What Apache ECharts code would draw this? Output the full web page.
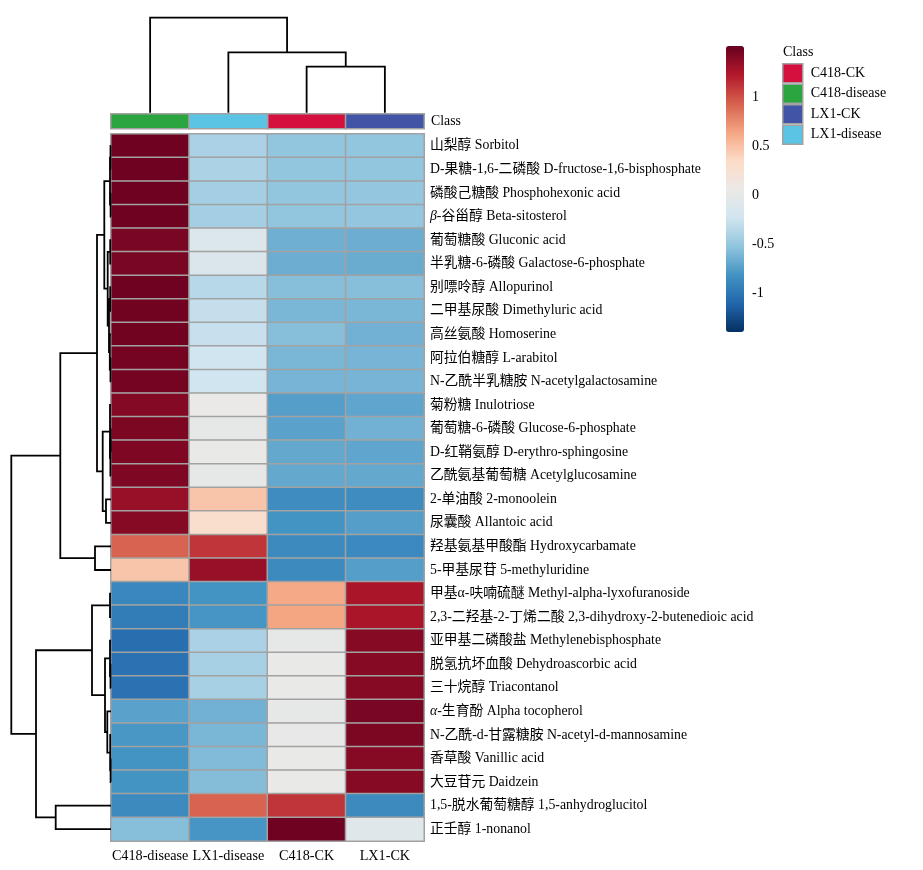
<!DOCTYPE html>
<html><head><meta charset="utf-8">
<script src="https://cdn.jsdelivr.net/npm/echarts@6/dist/echarts.min.js"></script>
<style>html,body{margin:0;padding:0;background:#fff}#c{width:923px;height:870px}</style>
</head><body><div id="c"></div>
<script>
// ---------- data ----------
const colLabels = ['C418-disease', 'LX1-disease', 'C418-CK', 'LX1-CK'];
const rowLabels = [
  '山梨醇 Sorbitol',
  'D-果糖-1,6-二磷酸 D-fructose-1,6-bisphosphate',
  '磷酸己糖酸 Phosphohexonic acid',
  'β-谷甾醇 Beta-sitosterol',
  '葡萄糖酸 Gluconic acid',
  '半乳糖-6-磷酸 Galactose-6-phosphate',
  '别嘌呤醇 Allopurinol',
  '二甲基尿酸 Dimethyluric acid',
  '高丝氨酸 Homoserine',
  '阿拉伯糖醇 L-arabitol',
  'N-乙酰半乳糖胺 N-acetylgalactosamine',
  '菊粉糖 Inulotriose',
  '葡萄糖-6-磷酸 Glucose-6-phosphate',
  'D-红鞘氨醇 D-erythro-sphingosine',
  '乙酰氨基葡萄糖 Acetylglucosamine',
  '2-单油酸 2-monoolein',
  '尿囊酸 Allantoic acid',
  '羟基氨基甲酸酯 Hydroxycarbamate',
  '5-甲基尿苷 5-methyluridine',
  '甲基α-呋喃硫醚 Methyl-alpha-lyxofuranoside',
  '2,3-二羟基-2-丁烯二酸 2,3-dihydroxy-2-butenedioic acid',
  '亚甲基二磷酸盐 Methylenebisphosphate',
  '脱氢抗坏血酸 Dehydroascorbic acid',
  '三十烷醇 Triacontanol',
  'α-生育酚 Alpha tocopherol',
  'N-乙酰-d-甘露糖胺 N-acetyl-d-mannosamine',
  '香草酸 Vanillic acid',
  '大豆苷元 Daidzein',
  '1,5-脱水葡萄糖醇 1,5-anhydroglucitol',
  '正壬醇 1-nonanol'
];
// row-scaled values, one array per column (rows in display order)
const c418Disease = [1.50,1.50,1.50,1.50,1.46,1.46,1.50,1.49,1.49,1.48,1.48,1.42,1.45,1.44,1.44,1.34,1.41,0.93,0.48,-0.89,-0.96,-1.05,-1.03,-1.03,-0.73,-0.79,-0.81,-0.81,-0.87,-0.56];
const lx1Disease  = [-0.41,-0.40,-0.44,-0.44,-0.11,-0.12,-0.35,-0.29,-0.27,-0.23,-0.23,0.05,0.00,0.03,0.00,0.48,0.30,1.12,1.34,-0.81,-0.80,-0.41,-0.42,-0.42,-0.64,-0.61,-0.58,-0.57,0.93,-0.80];
const c418CK      = [-0.52,-0.52,-0.52,-0.52,-0.65,-0.66,-0.56,-0.61,-0.56,-0.61,-0.62,-0.75,-0.73,-0.69,-0.69,-0.85,-0.81,-0.87,-0.87,0.63,0.65,0.00,0.03,0.03,0.00,0.02,0.03,0.03,1.12,1.50];
const lx1CK       = [-0.52,-0.52,-0.51,-0.51,-0.66,-0.67,-0.56,-0.61,-0.64,-0.62,-0.62,-0.71,-0.64,-0.71,-0.69,-0.85,-0.75,-0.88,-0.75,1.27,1.27,1.41,1.41,1.41,1.46,1.45,1.41,1.41,-0.87,-0.08];
const columnValues = [c418Disease, lx1Disease, c418CK, lx1CK];

const classNames = ['C418-CK', 'C418-disease', 'LX1-CK', 'LX1-disease'];
const classColors = ['#D5103E', '#2BA540', '#4254A5', '#5BC4E4'];
const colorTicks = [-1, -0.5, 0, 0.5, 1];
const colorMin = -1.40, colorMax = 1.53;
const palette = ['#053061','#2166AC','#4393C3','#92C5DE','#D1E5F0','#ECE9E6','#FDDBC7','#F4A582','#D6604D','#B2182B','#67001F'];

// dendrograms: [childA, childB, height]; negative = leaf (1-based display order), positive = earlier merge
const rowMerges = [
  [-1,-2,0.05],[-3,-4,0.04],[1,2,0.10],[-5,-6,0.08],[-7,-8,0.08],[-10,-11,0.05],
  [-9,6,0.12],[5,7,0.20],[4,8,0.33],[3,9,0.67],[-13,-14,0.03],[11,-15,0.06],
  [-12,12,0.10],[-16,-17,0.50],[13,14,0.83],[10,15,1.40],[-18,-19,1.60],[16,17,5.07],
  [-20,-21,0.10],[-23,-24,0.05],[-22,20,0.10],[-27,-28,0.04],[-26,22,0.08],[-25,23,0.37],
  [21,24,0.60],[19,25,1.90],[-29,-30,5.53],[26,27,7.50],[18,28,9.97]
];
const colMerges = [[-3,-4,4.6],[-2,1,6.04],[-1,2,9.5]];

// ---------- build ----------
function dendro(merges) {
  const pos = [], ht = [], segs = [];
  merges.forEach((m, i) => {
    const pa = m[0] < 0 ? -m[0] - 1 : pos[m[0] - 1];
    const ha = m[0] < 0 ? 0 : ht[m[0] - 1];
    const pb = m[1] < 0 ? -m[1] - 1 : pos[m[1] - 1];
    const hb = m[1] < 0 ? 0 : ht[m[1] - 1];
    pos[i] = (pa + pb) / 2; ht[i] = m[2];
    segs.push([pa, pb, ha, hb, m[2]]);
  });
  return segs;
}
const heatData = [];
columnValues.forEach((arr, c) => arr.forEach((v, r) => heatData.push([c, r, v])));

const serif = "'Liberation Serif', 'Times New Roman', 'Noto Sans CJK SC', serif";
const grey = '#a2a2a2';

function dendroRender(horizontal) {
  return function (params, api) {
    const pa = api.value(0), pb = api.value(1), ha = api.value(2), hb = api.value(3), h = api.value(4);
    const pts = horizontal
      ? [api.coord([ha, pa]), api.coord([h, pa]), api.coord([h, pb]), api.coord([hb, pb])]
      : [api.coord([pa, ha]), api.coord([pa, h]), api.coord([pb, h]), api.coord([pb, hb])];
    return { type: 'polyline', shape: { points: pts }, style: { stroke: '#000', lineWidth: 1.8, fill: null } };
  };
}

const classSeries = classNames.map((name, i) => ({
  type: 'heatmap', name: name, xAxisIndex: 1, yAxisIndex: 1,
  data: [[colLabels.indexOf(name), 0, 1]],
  itemStyle: { color: classColors[i], borderColor: grey, borderWidth: 1.5 },
  emphasis: { disabled: true }
}));

const chart = echarts.init(document.getElementById('c'), null, { renderer: 'canvas' });
chart.setOption({
  backgroundColor: '#fff',
  animation: false,
  textStyle: { fontFamily: serif },
  title: { text: 'Class', left: 783, top: 45, padding: 0,
    textStyle: { fontFamily: serif, fontSize: 14, fontWeight: 'normal', color: '#000' } },
  legend: {
    data: classNames, orient: 'vertical', left: 782, top: 63, padding: 0,
    itemWidth: 20, itemHeight: 19, itemGap: 0, selectedMode: false, icon: 'rect',
    itemStyle: { borderColor: grey, borderWidth: 1.5 },
    textStyle: { fontFamily: serif, fontSize: 14, color: '#000', padding: [0, 0, 0, 3] }
  },
  visualMap: {
    type: 'continuous', seriesIndex: 0, min: colorMin, max: colorMax,
    calculable: false, left: 726, top: 46, padding: 0, itemWidth: 18, itemHeight: 286,
    inRange: { color: palette }, text: null, showLabel: false
  },
  grid: [
    { left: 111, top: 134, width: 313, height: 707 },
    { left: 111, top: 114, width: 313, height: 14.5 },
    { left: 11, top: 134, width: 100, height: 707 },
    { left: 111, top: 12.7, width: 313, height: 100 },
    { left: 726, top: 46, width: 18, height: 286 }
  ],
  xAxis: [
    { type: 'category', gridIndex: 0, data: colLabels, position: 'bottom',
      axisLine: { show: false }, axisTick: { show: false }, splitLine: { show: false },
      axisLabel: { interval: 0, margin: 8, fontSize: 14.2, color: '#000', fontFamily: serif } },
    { type: 'category', gridIndex: 1, data: colLabels, show: false },
    { type: 'value', gridIndex: 2, min: 0, max: 10, inverse: true, show: false },
    { type: 'value', gridIndex: 3, min: -0.5, max: 3.5, show: false },
    { type: 'value', gridIndex: 4, min: 0, max: 1, show: false }
  ],
  yAxis: [
    { type: 'category', gridIndex: 0, data: rowLabels, inverse: true, position: 'right',
      axisLine: { show: false }, axisTick: { show: false }, splitLine: { show: false },
      axisLabel: { interval: 0, margin: 6, fontSize: 13.8, color: '#000', fontFamily: serif,
        formatter: v => /^[αβ]-/.test(v) ? '{i|' + v[0] + '}' + v.slice(1) : v,
        rich: { i: { fontStyle: 'italic', fontSize: 13.8, fontFamily: serif, color: '#000' } } } },
    { type: 'category', gridIndex: 1, data: ['Class'], position: 'right',
      axisLine: { show: false }, axisTick: { show: false },
      axisLabel: { margin: 7, fontSize: 13.8, color: '#000', fontFamily: serif } },
    { type: 'value', gridIndex: 2, min: -0.5, max: 29.5, inverse: true, show: false },
    { type: 'value', gridIndex: 3, min: 0, max: 10, show: false },
    { type: 'value', gridIndex: 4, min: colorMin, max: colorMax, position: 'right',
      axisLine: { show: false }, axisTick: { show: false }, splitLine: { show: false },
      axisLabel: { customValues: colorTicks, margin: 8, fontSize: 14, color: '#000', fontFamily: serif,
        formatter: v => String(v) } }
  ],
  series: [
    { type: 'heatmap', xAxisIndex: 0, yAxisIndex: 0, data: heatData,
      itemStyle: { borderColor: grey, borderWidth: 1.5 }, emphasis: { disabled: true } },
    ...classSeries,
    { type: 'custom', xAxisIndex: 2, yAxisIndex: 2, data: dendro(rowMerges),
      renderItem: dendroRender(true), clip: false, silent: true },
    { type: 'custom', xAxisIndex: 3, yAxisIndex: 3, data: dendro(colMerges),
      renderItem: dendroRender(false), clip: false, silent: true }
  ]
});
</script></body></html>
